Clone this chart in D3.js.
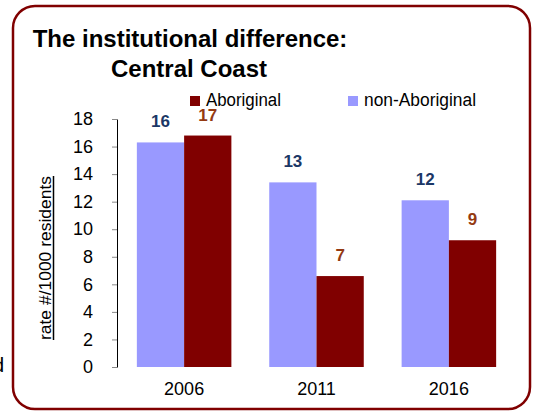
<!DOCTYPE html>
<html lang="en">
<head>
    <meta charset="utf-8">
    <title>Central Coast</title>
    <script src="https://cdn.jsdelivr.net/npm/d3@7"></script>
    <style type="text/css">
        body { margin: 0; background: #fff; }
        text { font-family: Arial, "Liberation Sans", sans-serif; }
    </style>
</head>
<body>
	<svg width="535" height="411"></svg>
	<script>

	    // data
	    var years = ["2006", "2011", "2016"];
	    var aboriginal = [16.8, 6.6, 9.2];
	    var nonAboriginal = [16.3, 13.4, 12.1];
	    var yTicks = [0, 2, 4, 6, 8, 10, 12, 14, 16, 18];
	    var seriesNames = ["non-Aboriginal", "Aboriginal"];

	    var colors = { "Aboriginal": "#800000", "non-Aboriginal": "#9999ff" };
	    var labelColors = { "Aboriginal": "#943a12", "non-Aboriginal": "#1b3766" };

	    var svg = d3.select("svg");

	    // rounded frame
	    svg.append("rect")
	       .attr("x", 13).attr("y", 6)
	       .attr("width", 517).attr("height", 403)
	       .attr("rx", 22)
	       .attr("fill", "none")
	       .attr("stroke", "#800000")
	       .attr("stroke-width", 2.5);

	    // cut-off glyph at the far left
	    svg.append("text")
	       .attr("x", 4).attr("y", 372)
	       .attr("text-anchor", "end")
	       .attr("font-size", 20)
	       .text("d");

	    // title
	    svg.append("text")
	       .attr("x", 190).attr("y", 47)
	       .attr("text-anchor", "middle")
	       .attr("font-size", 24).attr("font-weight", "bold")
	       .text("The institutional difference:");
	    svg.append("text")
	       .attr("x", 189).attr("y", 77)
	       .attr("text-anchor", "middle")
	       .attr("font-size", 24).attr("font-weight", "bold")
	       .text("Central Coast");

	    var data = years.map(function(y, i) {
	        return { year: y, "Aboriginal": aboriginal[i], "non-Aboriginal": nonAboriginal[i] };
	    });

	    var x0 = d3.scaleBand().domain(years).range([117, 516])
	               .paddingInner(0.286).paddingOuter(0.15);
	    var x1 = d3.scaleBand().domain(seriesNames).range([0, x0.bandwidth()]);
	    var y = d3.scaleLinear().domain([0, 18]).range([367, 119]);

	    // y axis
	    var yAxis = svg.append("g")
	       .attr("transform", "translate(117,0)")
	       .call(d3.axisLeft(y).tickValues(yTicks).tickSizeInner(5).tickSizeOuter(0).tickPadding(19));
	    yAxis.select(".domain").attr("stroke", "#000");
	    yAxis.selectAll(".tick line").attr("stroke", "#888");
	    yAxis.selectAll(".tick text")
	       .attr("font-family", "Arial, 'Liberation Sans', sans-serif")
	       .attr("font-size", 18).attr("fill", "#000");

	    // x labels
	    svg.append("g").selectAll("text")
	       .data(years).enter().append("text")
	       .attr("x", function(d) { return x0(d) + x0.bandwidth() / 2; })
	       .attr("y", 395)
	       .attr("text-anchor", "middle")
	       .attr("font-size", 18)
	       .text(function(d) { return d; });

	    // bars
	    var groups = svg.append("g").selectAll("g")
	       .data(data).enter().append("g")
	       .attr("transform", function(d) { return "translate(" + x0(d.year) + ",0)"; });

	    groups.selectAll("rect")
	       .data(function(d) { return seriesNames.map(function(k) { return { key: k, value: d[k] }; }); })
	       .enter().append("rect")
	       .attr("x", function(d) { return x1(d.key); })
	       .attr("y", function(d) { return y(d.value); })
	       .attr("width", x1.bandwidth())
	       .attr("height", function(d) { return y(0) - y(d.value); })
	       .attr("fill", function(d) { return colors[d.key]; });

	    groups.selectAll("text")
	       .data(function(d) { return seriesNames.map(function(k) { return { key: k, value: d[k] }; }); })
	       .enter().append("text")
	       .attr("x", function(d) { return x1(d.key) + x1.bandwidth() / 2; })
	       .attr("y", function(d) { return y(d.value) - 15; })
	       .attr("text-anchor", "middle")
	       .attr("font-size", 17).attr("font-weight", "bold")
	       .attr("fill", function(d) { return labelColors[d.key]; })
	       .text(function(d) { return d3.format(".0f")(d.value); });

	    // legend
	    var legend = [
	        { name: "Aboriginal", x: 190 },
	        { name: "non-Aboriginal", x: 348 }
	    ];
	    var lg = svg.append("g").selectAll("g")
	       .data(legend).enter().append("g")
	       .attr("transform", function(d) { return "translate(" + d.x + ",96)"; });
	    lg.append("rect")
	       .attr("width", 10).attr("height", 10)
	       .attr("fill", function(d) { return colors[d.name]; });
	    lg.append("text")
	       .attr("x", 16).attr("y", 10)
	       .attr("font-size", 18)
	       .attr("textLength", function(d) { return d.name == "Aboriginal" ? 75 : 112; })
	       .attr("lengthAdjust", "spacingAndGlyphs")
	       .text(function(d) { return d.name; });

	    // y axis title, underlined
	    var yt = svg.append("text")
	       .attr("transform", "translate(51,258) rotate(-90)")
	       .attr("text-anchor", "middle")
	       .attr("font-size", 17)
	       .attr("textLength", 164)
	       .attr("lengthAdjust", "spacingAndGlyphs")
	       .text("rate #/1000 residents");
	    svg.append("line")
	       .attr("x1", 53.5).attr("x2", 53.5)
	       .attr("y1", 258 - 82).attr("y2", 258 + 82)
	       .attr("stroke", "#000").attr("stroke-width", 1.5);

	</script>
</body>
</html>
